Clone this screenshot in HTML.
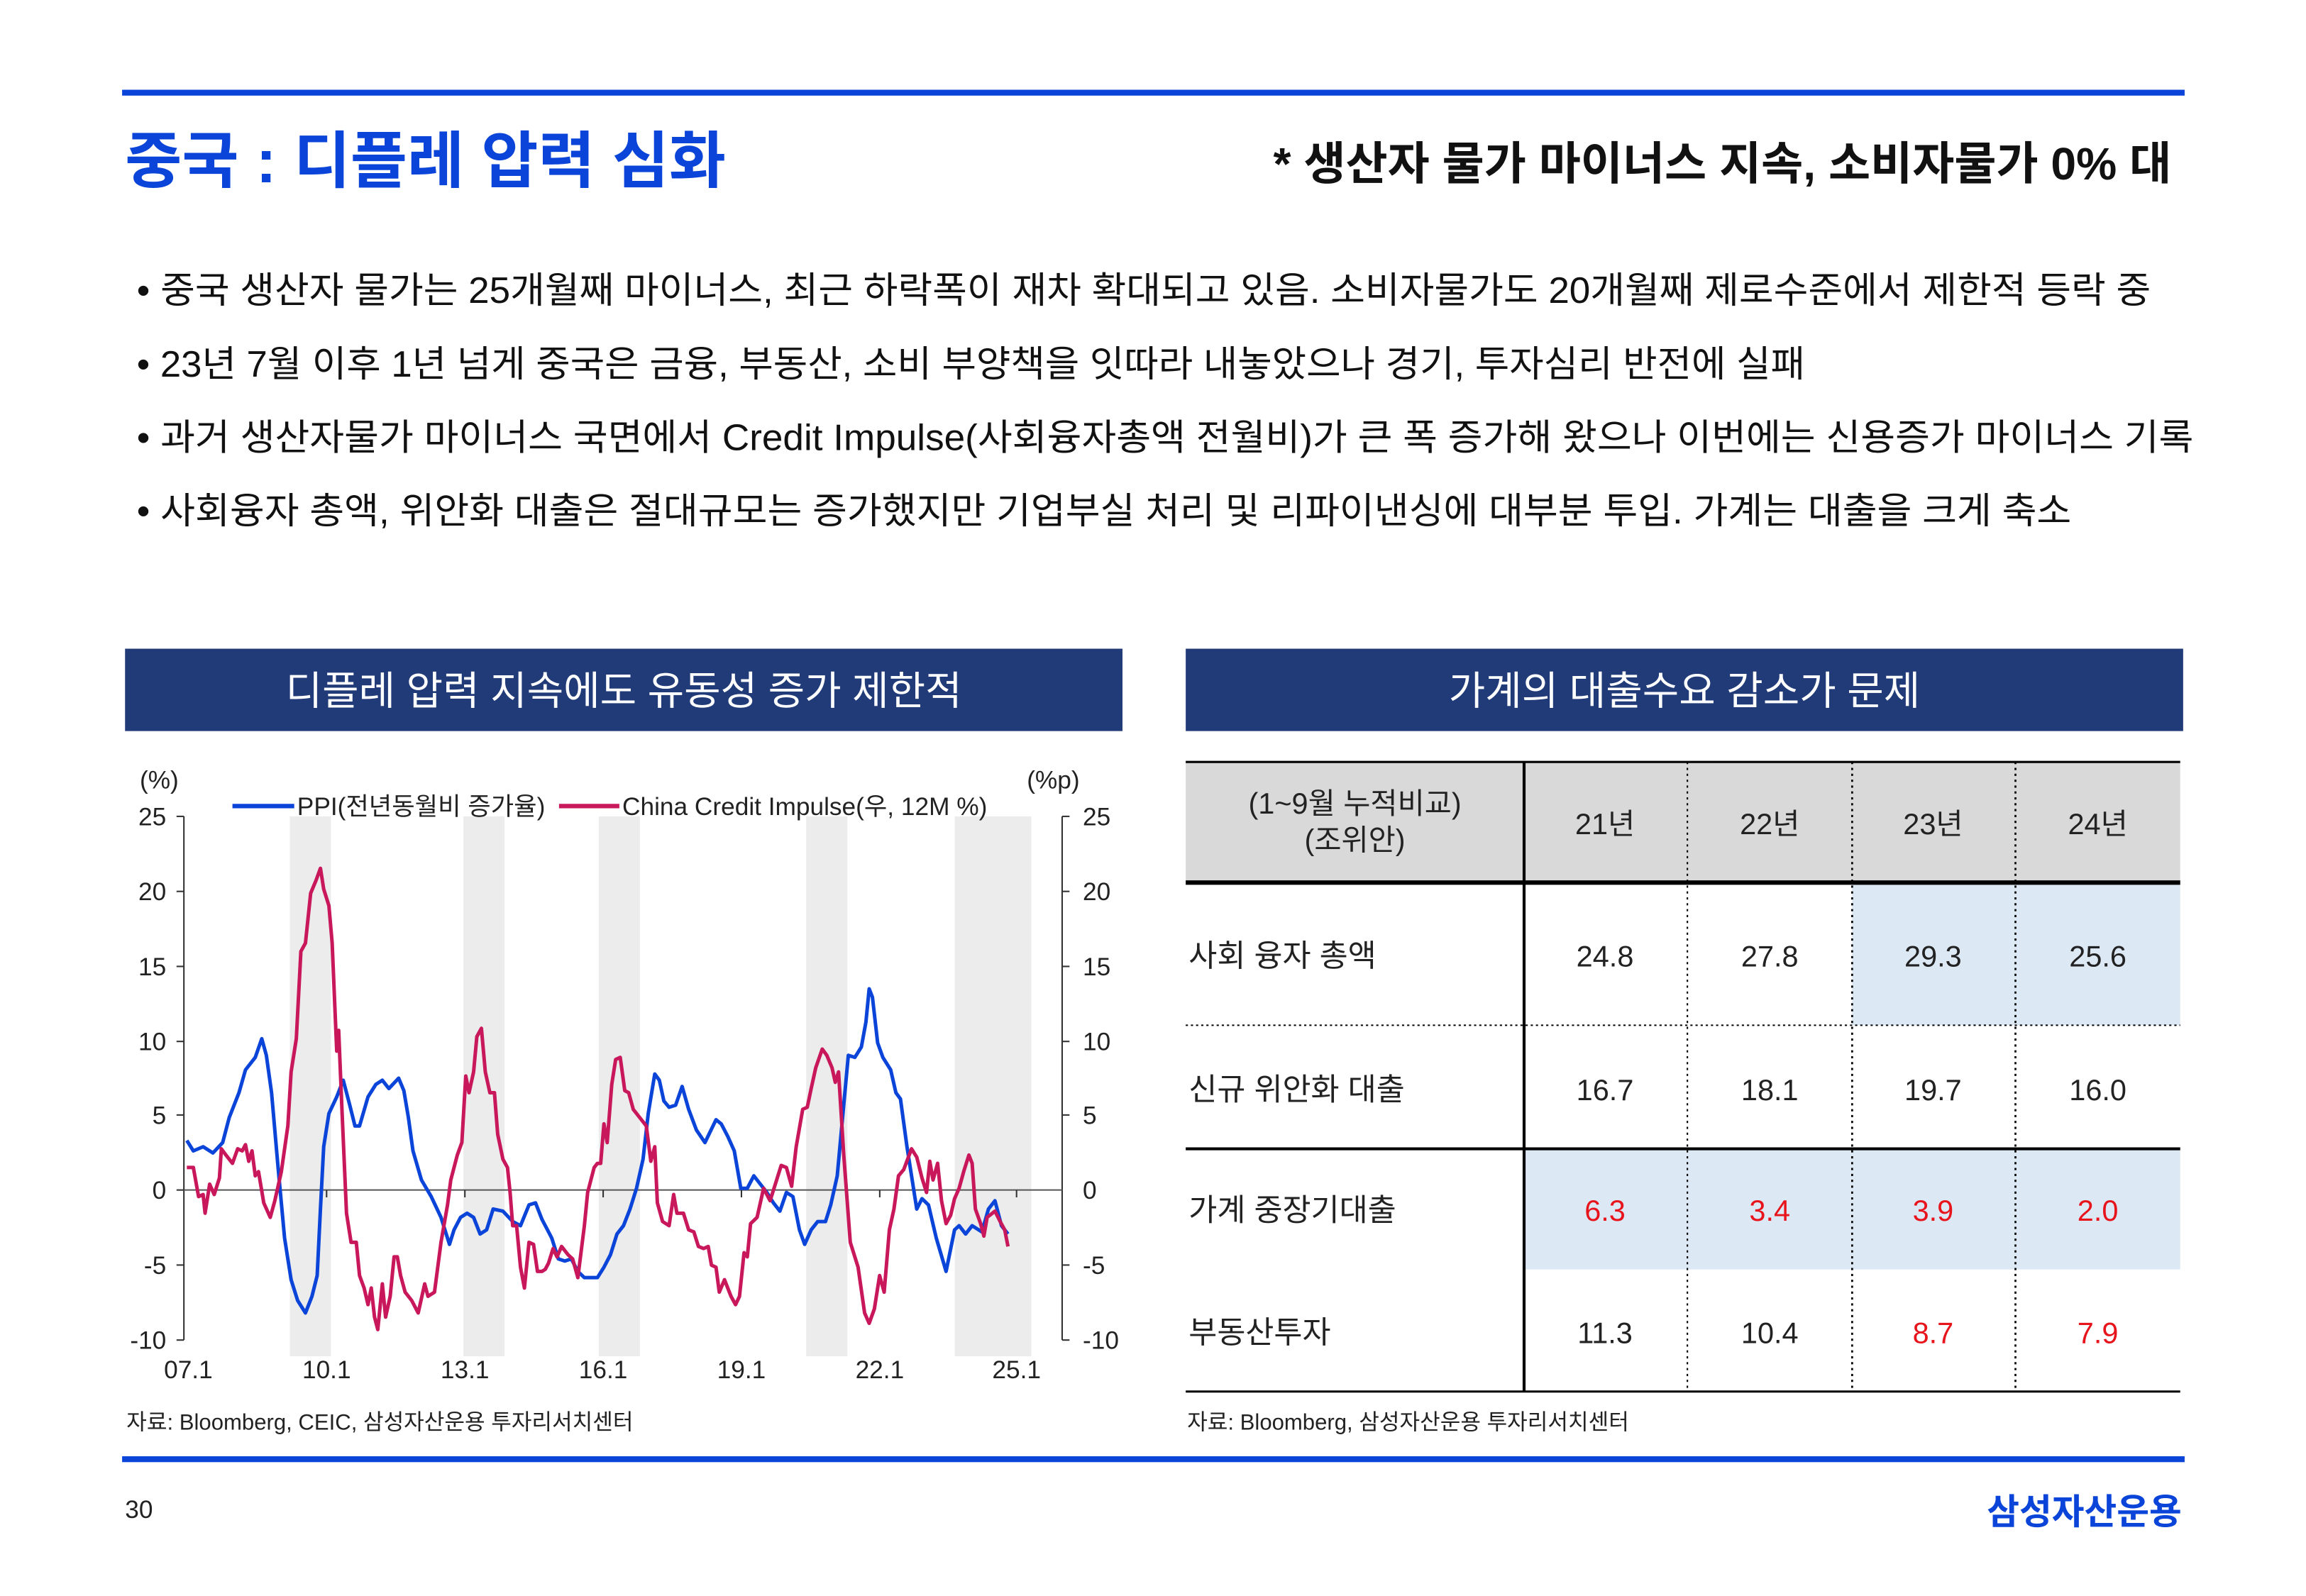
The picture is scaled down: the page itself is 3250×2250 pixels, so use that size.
<!DOCTYPE html>
<html><head><meta charset="utf-8">
<style>
html,body{margin:0;padding:0;background:#fff;}
svg{display:block;}
text{font-family:"Liberation Sans","Noto Sans CJK KR",sans-serif;}
</style></head>
<body>
<svg width="3250" height="2250" viewBox="0 0 1567.5 1085" preserveAspectRatio="none" xmlns="http://www.w3.org/2000/svg">
<rect width="1567.5" height="1085" fill="#fff"/>
<!-- top -->
<rect x="83" y="61" width="1402" height="4" fill="#0b44d8"/>
<text x="85" y="124" font-size="42" font-weight="bold" fill="#0b44d8">중국 : 디플레 압력 심화</text>
<text x="1476" y="122" font-size="31" font-weight="bold" fill="#111" text-anchor="end">* 생산자 물가 마이너스 지속, 소비자물가 0% 대</text>
<g font-size="25" fill="#111">
<text x="93" y="206" textLength="1369" lengthAdjust="spacingAndGlyphs">• 중국 생산자 물가는 25개월째 마이너스, 최근 하락폭이 재차 확대되고 있음. 소비자물가도 20개월째 제로수준에서 제한적 등락 중</text>
<text x="93" y="256" textLength="1134" lengthAdjust="spacingAndGlyphs">• 23년 7월 이후 1년 넘게 중국은 금융, 부동산, 소비 부양책을 잇따라 내놓았으나 경기, 투자심리 반전에 실패</text>
<text x="93" y="306" textLength="1398" lengthAdjust="spacingAndGlyphs">• 과거 생산자물가 마이너스 국면에서 Credit Impulse(사회융자총액 전월비)가 큰 폭 증가해 왔으나 이번에는 신용증가 마이너스 기록</text>
<text x="93" y="356" textLength="1315" lengthAdjust="spacingAndGlyphs">• 사회융자 총액, 위안화 대출은 절대규모는 증가했지만 기업부실 처리 및 리파이낸싱에 대부분 투입. 가계는 대출을 크게 축소</text>
</g>
<!-- headers -->
<rect x="85" y="441" width="678" height="56" fill="#213a78"/>
<text x="424" y="479" font-size="27" fill="#fff" text-anchor="middle">디플레 압력 지속에도 유동성 증가 제한적</text>
<rect x="806" y="441" width="678" height="56" fill="#213a78"/>
<text x="1145" y="479" font-size="27" fill="#fff" text-anchor="middle">가계의 대출수요 감소가 문제</text>

<!-- chart -->
<g fill="#ececec">
<rect x="197" y="555" width="28" height="367"/>
<rect x="315" y="555" width="28" height="367"/>
<rect x="407" y="555" width="28" height="367"/>
<rect x="548" y="555" width="28" height="367"/>
<rect x="649" y="555" width="52" height="367"/>
</g>
<g stroke="#333" stroke-width="1" fill="none">
<line x1="125" y1="555" x2="125" y2="911"/>
<line x1="722" y1="555" x2="722" y2="911"/>
<line x1="125" y1="809" x2="722" y2="809" stroke="#555"/>
</g>
<g stroke="#333" stroke-width="1">
<line x1="120" y1="555" x2="125" y2="555"/><line x1="120" y1="606" x2="125" y2="606"/><line x1="120" y1="657" x2="125" y2="657"/><line x1="120" y1="708" x2="125" y2="708"/><line x1="120" y1="758" x2="125" y2="758"/><line x1="120" y1="809" x2="125" y2="809"/><line x1="120" y1="860" x2="125" y2="860"/><line x1="120" y1="911" x2="125" y2="911"/>
<line x1="722" y1="555" x2="727" y2="555"/><line x1="722" y1="606" x2="727" y2="606"/><line x1="722" y1="657" x2="727" y2="657"/><line x1="722" y1="708" x2="727" y2="708"/><line x1="722" y1="758" x2="727" y2="758"/><line x1="722" y1="860" x2="727" y2="860"/><line x1="722" y1="911" x2="727" y2="911"/>
<line x1="222" y1="809" x2="222" y2="814"/><line x1="316" y1="809" x2="316" y2="814"/><line x1="410" y1="809" x2="410" y2="814"/><line x1="504" y1="809" x2="504" y2="814"/><line x1="598" y1="809" x2="598" y2="814"/><line x1="691" y1="809" x2="691" y2="814"/>
</g>
<g font-size="17" fill="#222" text-anchor="end">
<text x="113" y="561">25</text><text x="113" y="612">20</text><text x="113" y="663">15</text><text x="113" y="714">10</text><text x="113" y="764">5</text><text x="113" y="815">0</text><text x="113" y="866">-5</text><text x="113" y="917">-10</text>
</g>
<g font-size="17" fill="#222">
<text x="736" y="561">25</text><text x="736" y="612">20</text><text x="736" y="663">15</text><text x="736" y="714">10</text><text x="736" y="764">5</text><text x="736" y="815">0</text><text x="736" y="866">-5</text><text x="736" y="917">-10</text>
<text x="95" y="536">(%)</text><text x="698" y="536">(%p)</text>
</g>
<g font-size="17" fill="#222" text-anchor="middle">
<text x="128" y="937">07.1</text><text x="222" y="937">10.1</text><text x="316" y="937">13.1</text><text x="410" y="937">16.1</text><text x="504" y="937">19.1</text><text x="598" y="937">22.1</text><text x="691" y="937">25.1</text>
</g>
<line x1="158" y1="548" x2="200" y2="548" stroke="#0b44d8" stroke-width="3"/>
<text x="202" y="554" font-size="17" fill="#222">PPI(전년동월비 증가율)</text>
<line x1="380" y1="548" x2="421" y2="548" stroke="#c8175a" stroke-width="3"/>
<text x="423" y="554" font-size="17" fill="#222">China Credit Impulse(우, 12M %)</text>

<g transform="matrix(0.443,0,0,0.2825,82.7,511.2)" fill="none" stroke-linejoin="round">
<polyline vector-effect="non-scaling-stroke" stroke="#0b44d8" stroke-width="5" points="100,935 110,960 125,950 140,965 155,940 165,880 180,820 190,765 205,735 215,690 222,730 230,820 240,1000 250,1170 260,1270 270,1320 282,1350 292,1310 300,1260 305,1100 310,950 318,870 330,830 340,790 350,850 358,900 365,900 378,830 390,800 400,790 410,810 425,785 433,815 440,880 447,960 460,1030 475,1070 490,1120 503,1185 510,1150 520,1120 530,1110 540,1120 550,1160 560,1150 570,1100 585,1105 600,1130 612,1140 625,1090 635,1085 645,1125 660,1170 670,1220 680,1225 690,1220 700,1250 710,1265 730,1265 740,1240 750,1210 760,1160 770,1140 780,1100 790,1050 800,980 808,870 818,775 825,790 832,840 840,855 850,850 860,805 870,860 882,910 895,940 912,885 920,895 930,925 940,960 950,1050 960,1050 970,1020 980,1040 990,1060 1000,1085 1010,1105 1020,1060 1030,1070 1040,1150 1048,1185 1058,1150 1068,1130 1080,1130 1088,1090 1098,1020 1105,900 1115,730 1125,735 1135,710 1142,650 1147,570 1152,590 1160,700 1168,735 1180,765 1188,820 1195,835 1205,950 1212,1020 1220,1100 1228,1075 1238,1090 1250,1170 1265,1250 1278,1150 1285,1140 1295,1160 1305,1140 1320,1155 1330,1100 1340,1080 1350,1140 1360,1160"/>
<polyline vector-effect="non-scaling-stroke" stroke="#c8175a" stroke-width="5" points="100,1000 110,1000 118,1070 125,1065 128,1110 135,1040 142,1065 150,1025 153,955 160,970 170,990 178,955 185,960 190,945 195,985 200,960 205,1020 210,1010 218,1085 228,1120 235,1080 245,1010 255,900 260,770 268,690 275,480 282,460 290,340 298,310 305,280 310,330 318,370 323,460 330,720 333,670 338,860 345,1110 352,1180 360,1180 365,1260 372,1290 378,1330 383,1290 388,1360 393,1390 400,1280 405,1360 412,1310 418,1215 423,1215 428,1260 435,1300 445,1320 455,1350 465,1280 470,1310 480,1300 490,1180 500,1090 505,1030 515,970 522,940 528,780 533,820 540,770 545,685 552,665 558,770 565,820 572,820 577,920 585,980 592,1000 596,1060 600,1140 606,1140 612,1240 618,1290 625,1180 632,1185 638,1250 645,1250 650,1245 655,1230 662,1195 668,1215 675,1190 685,1210 692,1220 700,1265 710,1140 715,1060 725,1000 730,990 735,990 740,895 745,940 752,800 758,740 765,735 772,815 778,820 785,860 795,880 805,900 812,985 818,950 822,1085 830,1130 840,1140 847,1065 852,1110 862,1110 870,1150 878,1155 885,1190 893,1195 900,1190 905,1235 912,1240 917,1300 925,1270 935,1310 942,1330 948,1310 955,1205 960,1215 965,1135 975,1120 985,1050 995,1080 1005,1030 1012,995 1020,1000 1028,1045 1035,950 1045,860 1052,855 1058,810 1065,760 1075,715 1082,730 1090,760 1095,795 1100,770 1108,970 1118,1180 1130,1240 1140,1350 1147,1375 1155,1340 1163,1260 1170,1300 1178,1150 1185,1100 1192,1020 1200,1005 1212,955 1220,975 1228,1025 1235,1060 1240,985 1245,1030 1252,990 1258,1080 1265,1135 1272,1115 1278,1075 1285,1050 1292,1010 1300,970 1305,990 1310,1100 1318,1135 1323,1165 1328,1120 1340,1105 1348,1130 1355,1150 1360,1190"/>
</g>
<text x="86" y="972" font-size="15" fill="#222">자료: Bloomberg, CEIC, 삼성자산운용 투자리서치센터</text>

<!-- table -->
<rect x="806" y="518" width="676" height="82" fill="#d9d9d9"/>
<rect x="1259" y="601" width="223" height="96" fill="#dde8f5"/>
<rect x="1036" y="781" width="446" height="82" fill="#dde8f5"/>
<g stroke="#000" fill="none">
<line x1="806" y1="518" x2="1482" y2="518" stroke-width="1.5"/>
<line x1="806" y1="600" x2="1482" y2="600" stroke-width="3"/>
<line x1="806" y1="697" x2="1482" y2="697" stroke-width="1" stroke-dasharray="1.5,2"/>
<line x1="806" y1="781" x2="1482" y2="781" stroke-width="2"/>
<line x1="806" y1="946" x2="1482" y2="946" stroke-width="1.5"/>
<line x1="1036" y1="518" x2="1036" y2="946" stroke-width="2"/>
<line x1="1147" y1="518" x2="1147" y2="946" stroke-width="1" stroke-dasharray="1.5,2.5"/>
<line x1="1259" y1="518" x2="1259" y2="946" stroke-width="1.3" stroke-dasharray="1.5,2.5"/>
<line x1="1370" y1="518" x2="1370" y2="946" stroke-width="1.3" stroke-dasharray="1.5,2.5"/>
</g>
<g font-size="20" fill="#222" text-anchor="middle">
<text x="921" y="553">(1~9월 누적비교)</text>
<text x="921" y="578">(조위안)</text>
<text x="1091" y="567">21년</text><text x="1203" y="567">22년</text><text x="1314" y="567">23년</text><text x="1426" y="567">24년</text>
<text x="1091" y="657">24.8</text><text x="1203" y="657">27.8</text><text x="1314" y="657">29.3</text><text x="1426" y="657">25.6</text>
<text x="1091" y="748">16.7</text><text x="1203" y="748">18.1</text><text x="1314" y="748">19.7</text><text x="1426" y="748">16.0</text>
<text x="1091" y="913">11.3</text><text x="1203" y="913">10.4</text>
</g>
<g font-size="20" fill="#e8141c" text-anchor="middle">
<text x="1091" y="830">6.3</text><text x="1203" y="830">3.4</text><text x="1314" y="830">3.9</text><text x="1426" y="830">2.0</text>
<text x="1314" y="913">8.7</text><text x="1426" y="913">7.9</text>
</g>
<g font-size="21" fill="#222">
<text x="808" y="657">사회 융자 총액</text>
<text x="808" y="748">신규 위안화 대출</text>
<text x="808" y="830">가계 중장기대출</text>
<text x="808" y="913">부동산투자</text>
</g>
<text x="807" y="972" font-size="15" fill="#222">자료: Bloomberg, 삼성자산운용 투자리서치센터</text>

<!-- footer -->
<rect x="83" y="990" width="1402" height="4" fill="#0b44d8"/>
<text x="85" y="1032" font-size="17" fill="#222">30</text>
<text x="1483" y="1036" font-size="24" font-weight="bold" fill="#0b44d8" text-anchor="end">삼성자산운용</text>
</svg>
</body></html>
